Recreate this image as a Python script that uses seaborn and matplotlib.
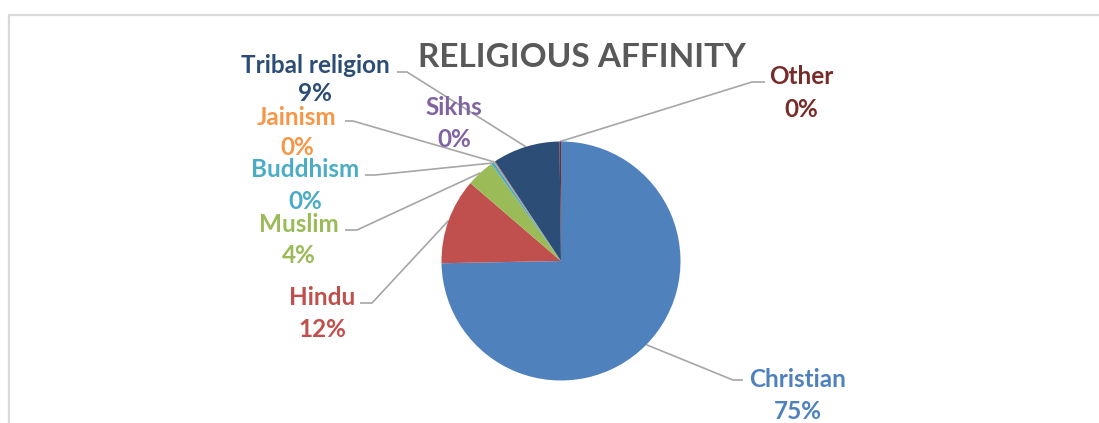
import numpy as np
import matplotlib
matplotlib.use("Agg")
import matplotlib.pyplot as plt
import seaborn as sns

# ---- data ----
categories = ["Christian", "Hindu", "Muslim", "Buddhism", "Jainism", "Sikhs", "Tribal religion", "Other"]
values = [74.7, 11.6, 3.8, 0.4, 0.1, 0.1, 9.1, 0.2]
pct_labels = ["75%", "12%", "4%", "0%", "0%", "0%", "9%", "0%"]
title = "RELIGIOUS AFFINITY"

colors = ["#4F81BD", "#C0504D", "#9BBB59", "#4BACC6", "#F79646", "#8064A2", "#2C4D75", "#772C2A"]

sns.set_theme(style="white")
plt.rcParams['font.family'] = ['Lato', 'DejaVu Sans']

W, H = 1099, 423
fig = plt.figure(figsize=(W / 100, H / 100), dpi=100)
fig.patch.set_facecolor("white")

# overlay axes in pixel coordinates
ov = fig.add_axes([0, 0, 1, 1])
ov.set_xlim(0, W)
ov.set_ylim(H, 0)
ov.axis("off")

# chart frame (cropped at right and bottom)
ov.plot([9, 9, W + 5], [H + 5, 15, 15], color="#D9D9D9", lw=1.6, solid_joinstyle="miter", zorder=1)

# pie axes
cx, cy, r = 561, 261, 119.5
pax = fig.add_axes([(cx - r) / W, (H - cy - r) / H, 2 * r / W, 2 * r / H])
wedges, _ = pax.pie(values, colors=colors, startangle=90, counterclock=False,
                    radius=1, wedgeprops=dict(linewidth=0))
pax.set_xlim(-1, 1)
pax.set_ylim(-1, 1)
pax.set_aspect("equal")
pax.axis("off")

fig.canvas.draw()
to_ov = ov.transData.inverted()

def rim_point(w):
    ang = np.deg2rad((w.theta1 + w.theta2) / 2)
    disp = pax.transData.transform((np.cos(ang), np.sin(ang)))
    return to_ov.transform(disp)

# label layout: (center x, baseline 1, baseline 2, leader start, knee)
layout = {
    "Christian": (798, 387, 419, (743, 380), (733, 380)),
    "Hindu": (322, 305, 337, (360, 303), (372, 303)),
    "Muslim": (299, 232, 263, (345, 230), (357, 230)),
    "Buddhism": (305, 177, 209, (365, 175), (375, 175)),
    "Jainism": (297, 125, 155, (345, 121), (353, 121)),
    "Sikhs": (454, 115, 147, None, None),
    "Tribal religion": (315, 73, 101, (397, 72), (407, 72)),
    "Other": (801, 84, 117, (765, 82), (752, 82)),
}

fs = 17.5
for w, cat, pct, col in zip(wedges, categories, pct_labels, colors):
    x, b1, b2, start, knee = layout[cat]
    if start is not None:
        rp = rim_point(w)
        ov.plot([start[0], knee[0], rp[0]], [start[1], knee[1], rp[1]],
                color="#A6A6A6", lw=1.2, zorder=2, solid_capstyle="butt")
    ov.text(x, b1, cat, color=col, fontsize=fs, fontweight="bold",
            ha="center", va="baseline", zorder=3)
    ov.text(x, b2, pct, color=col, fontsize=fs, fontweight="bold",
            ha="center", va="baseline", zorder=3)

ov.text(582, 67, title, color="#595959", fontsize=24, fontweight="bold",
        ha="center", va="baseline", zorder=3)

fig.savefig("out.png", dpi=100, facecolor="white")
